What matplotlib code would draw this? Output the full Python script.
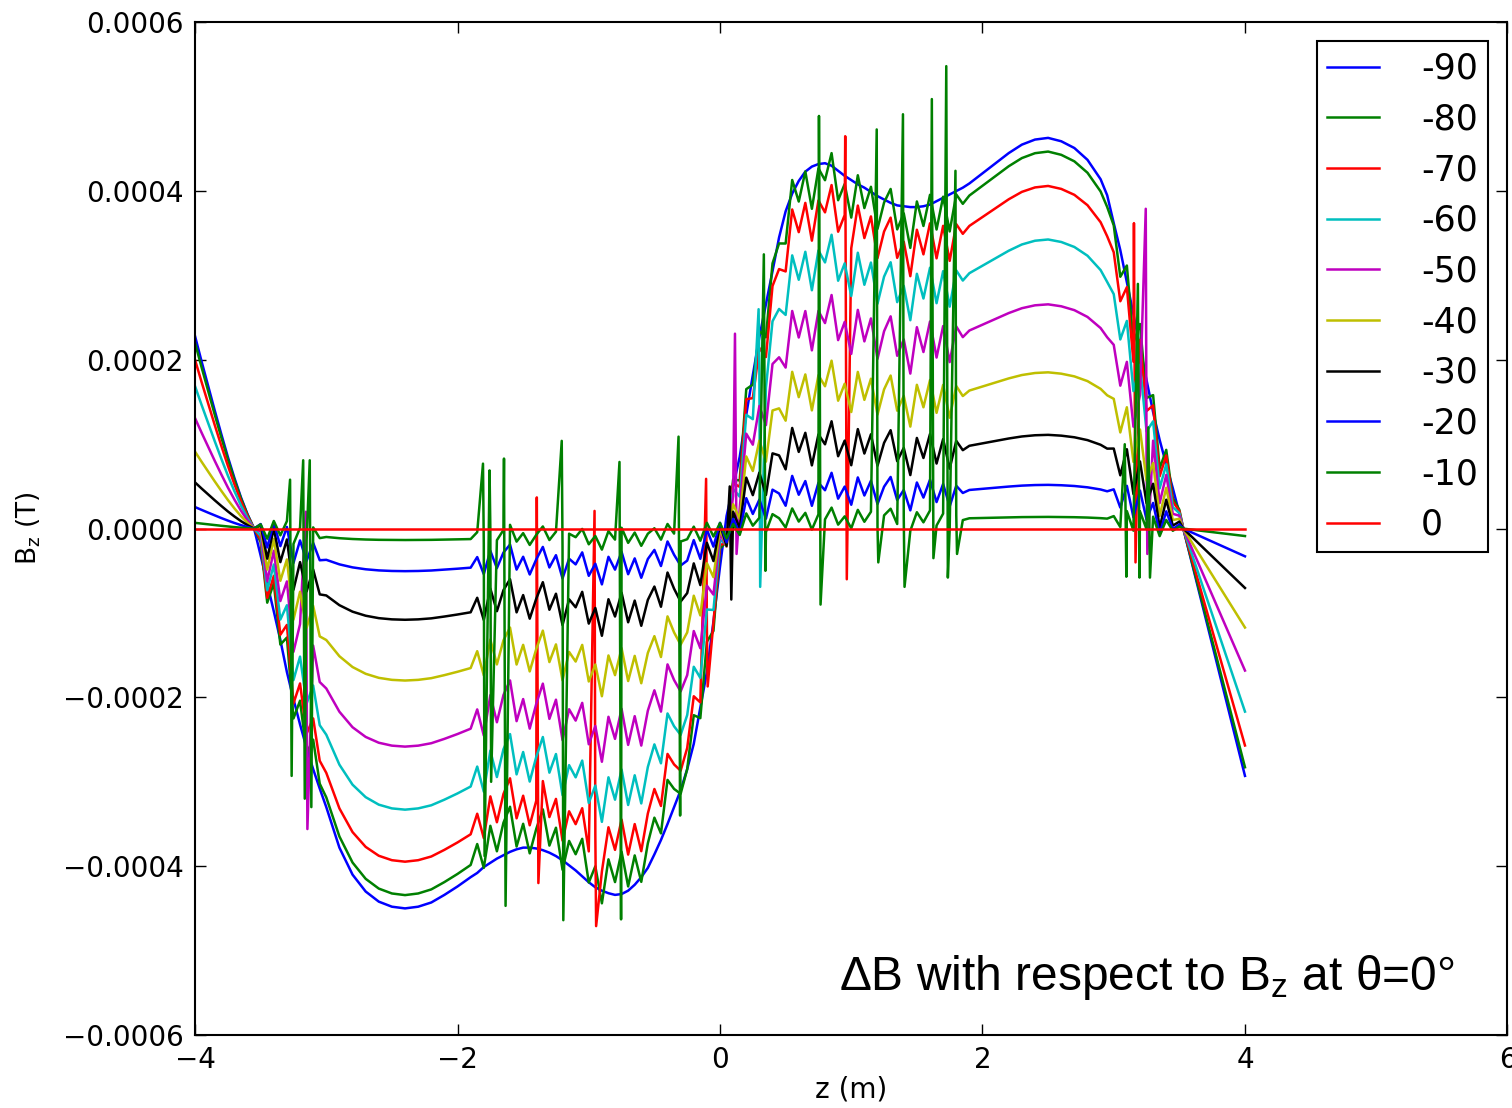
import numpy as np
import matplotlib.pyplot as plt
from matplotlib.ticker import FuncFormatter

plt.rcParams['mathtext.default'] = 'regular'

angles = [-90, -80, -70, -60, -50, -40, -30, -20, -10, 0]
colors = ['b', 'g', 'r', 'c', 'm', 'y', 'k', 'b', 'g', 'r']
# size of each curve relative to the -90 curve (read at the z=2.45 bump)
ratios = [1.0, 0.965, 0.877, 0.74, 0.574, 0.40, 0.24, 0.112, 0.03, 0.0]
# how strongly the mesh noise shows on each curve
noise_scale = [0.0, 1.0, 1.0, 1.0, 1.0, 0.9, 0.8, 0.6, 0.4, 0.0]

# -90 curve, units of 1e-4 T
z_knots = [-4.00, -3.95, -3.90, -3.85, -3.80, -3.75, -3.70, -3.65, -3.60, -3.55,
           -3.50, -3.45, -3.40, -3.35, -3.30, -3.25, -3.20, -3.15, -3.10, -3.05,
           -3.00, -2.90, -2.80, -2.70, -2.60, -2.50, -2.40, -2.30, -2.20, -2.10,
           -2.00, -1.90,
           -1.85, -1.80, -1.75, -1.70, -1.65, -1.60, -1.55, -1.50, -1.45, -1.40,
           -1.35, -1.30, -1.25, -1.20, -1.15, -1.10, -1.05, -1.00, -0.95, -0.90,
           -0.85, -0.80, -0.75, -0.70, -0.65, -0.60, -0.55, -0.50, -0.45, -0.40,
           -0.35, -0.30,
           -0.25, -0.20, -0.15, -0.10, -0.05, 0.00, 0.05, 0.10, 0.15, 0.20,
           0.25, 0.30, 0.35, 0.40, 0.45, 0.50, 0.55, 0.60, 0.65, 0.70,
           0.75, 0.80, 0.85, 0.90, 0.95, 1.00, 1.05, 1.10, 1.15, 1.20,
           1.25, 1.30, 1.35, 1.40, 1.45, 1.50, 1.55, 1.60, 1.65, 1.70,
           1.75, 1.80, 1.85,
           1.90, 2.00, 2.10, 2.20, 2.30, 2.40, 2.50, 2.60, 2.70, 2.80,
           2.90, 2.95,
           3.00, 3.05, 3.10, 3.15, 3.20, 3.25, 3.30, 3.35, 3.40, 3.45, 3.50,
           3.53, 4.00]
bz_90 = [2.28, 1.98, 1.69, 1.40, 1.12, 0.85, 0.60, 0.37, 0.17, 0.00,
         -0.32, -0.65, -0.98, -1.32, -1.70, -2.02, -2.32, -2.60, -2.85, -3.08,
         -3.30, -3.78, -4.10, -4.30, -4.42, -4.48, -4.50, -4.48, -4.43, -4.34,
         -4.24, -4.13,
         -4.08, -4.01, -3.96, -3.91, -3.87, -3.83, -3.80, -3.78, -3.78, -3.79,
         -3.81, -3.84, -3.88, -3.93, -3.99, -4.05, -4.12, -4.19, -4.25, -4.29,
         -4.32, -4.34, -4.33, -4.29, -4.22, -4.13, -4.02, -3.86, -3.69, -3.50,
         -3.30, -3.10,
         -2.85, -2.55, -2.12, -1.70, -1.10, -0.45, 0.15, 0.50, 0.85, 1.35,
         1.82, 2.27, 2.66, 3.05, 3.45, 3.76, 3.97, 4.12, 4.23, 4.29,
         4.32, 4.33, 4.30, 4.24, 4.18, 4.13, 4.08, 4.04, 3.99, 3.94,
         3.90, 3.86, 3.83, 3.82, 3.81, 3.81, 3.82, 3.84, 3.88, 3.92,
         3.96, 4.00, 4.04,
         4.09, 4.21, 4.33, 4.45, 4.55, 4.61, 4.63, 4.59, 4.51, 4.37,
         4.14, 3.95,
         3.62, 3.30, 2.92, 2.54, 2.15, 1.76, 1.38, 1.05, 0.76, 0.48, 0.18,
         0.00, -2.93]
# small wiggles on the noisy stretches (1e-4 T)
jitter = ([0.0] * 10
          + [0.15, -0.25, 0.30, -0.10, 0.35, -0.30, 0.20, -0.15, 0.25, -0.05]
          + [0.0] * 12
          + [0.20, -0.15, 0.30, -0.05, 0.25, 0.40, -0.10, 0.15, -0.20, 0.10,
             0.35, -0.05, 0.20, -0.25, 0.15, 0.05, 0.30, -0.15, 0.10, -0.30,
             0.25, 0.00, 0.35, -0.10, 0.20, -0.20, 0.15, 0.30, -0.05, 0.40,
             0.10, -0.15]
          + [-0.10, 0.25, -0.20, 0.30, -0.15, 0.20, -0.30, 0.10, -0.25, 0.35,
             -0.05, 0.15, -0.30, 0.20, 0.05, -0.25, 0.30, -0.10, 0.15, -0.35,
             0.10, -0.05, 0.30, -0.20, 0.05, -0.30, 0.25, -0.10, 0.20, -0.25,
             0.10, 0.30, -0.15, 0.05, -0.35, 0.20, -0.10, 0.25, -0.20, 0.15,
             -0.30, 0.10, -0.05]
          + [0.0] * 12
          + [0.10, -0.20, 0.30, -0.25, 0.35, -0.15, 0.25, -0.30, 0.20, -0.10, 0.05]
          + [0.0, 0.0])

# big spikes: position, top, bottom (1e-4 T) and the curve they sit on
spike_z = [-3.27, -3.17, -3.15, -3.12, -1.80, -1.75, -1.64, -1.39, -1.20, -0.95,
           -0.76, -0.31, -0.10, 0.08, 0.12, 0.30, 0.34, 0.76, 0.96, 1.20,
           1.40, 1.62, 1.73, 1.80, 3.09, 3.16, 3.19, 3.25, 3.27]
spike_top = [0.58, 0.81, 0.20, 0.81, 0.77, 0.69, 0.83, 0.37, 1.04, 0.21,
             0.79, 1.09, 0.59, 0.50, 2.31, 2.60, 3.25, 4.89, 4.65, 4.73,
             4.91, 5.09, 5.48, 4.24, 1.00, 3.62, 2.90, 3.79, 1.20]
spike_bot = [-2.93, -3.20, -3.56, -3.30, -3.88, -3.00, -4.47, -4.20, -4.64, -4.71,
             -4.63, -3.40, -1.87, -0.84, -0.30, -0.69, -0.50, -0.90, -0.60, -0.40,
             -0.69, -0.35, -0.58, -0.30, -0.57, -0.40, -0.58, -0.30, -0.58]
spike_angle = [-10, -10, -50, -10, -10, -10, -10, -70, -10, -70,
               -10, -10, -70, -30, -50, -60, -10, -10, -70, -10,
               -10, -10, -10, -10, -10, -70, -10, -50, -10]

assert len(z_knots) == len(bz_90) == len(jitter)

z = np.array(z_knots)
base = np.array(bz_90)
jit = np.array(jitter)

fig = plt.figure(figsize=(15.12, 11.08), dpi=100)
ax = fig.add_axes([0.129, 0.0659, 0.868, 0.914])

for ang, col, r, ns in zip(angles, colors, ratios, noise_scale):
    zz = list(z)
    yy = list(r * base + ns * jit)
    for sz, st, sb, sa in zip(spike_z, spike_top, spike_bot, spike_angle):
        if sa == ang:
            zz += [sz - 0.006, sz + 0.006]
            yy += [st, sb]
    order = np.argsort(zz, kind='stable')
    ax.plot(np.array(zz)[order], np.array(yy)[order] * 1e-4,
            color=col, lw=1.8, label=str(ang))

ax.set_xlim(-4, 6)
ax.set_ylim(-0.0006, 0.0006)
ax.set_xticks([-4, -2, 0, 2, 4, 6])
ax.set_yticks([-0.0006, -0.0004, -0.0002, 0, 0.0002, 0.0004, 0.0006])
ax.xaxis.set_major_formatter(FuncFormatter(lambda v, p: f'{v:g}'.replace('-', '\u2212')))
ax.yaxis.set_major_formatter(FuncFormatter(lambda v, p: f'{v:.4f}'.replace('-', '\u2212')
                                            if abs(v) > 1e-12 else '0.0000'))
ax.tick_params(direction='in', top=True, right=True, length=8, width=1,
               labelsize=20, pad=8)
for s in ax.spines.values():
    s.set_linewidth(1.5)

ax.set_xlabel('z (m)', fontsize=20)
ax.set_ylabel('B$_z$ (T)', fontsize=19)
ax.xaxis.set_label_coords(0.5, -0.040)
ax.yaxis.set_label_coords(-0.116, 0.5)

leg = ax.legend(loc='upper right', fontsize=25, handlelength=1.5,
                handletextpad=1.2, labelspacing=0.48, borderpad=0.3,
                borderaxespad=0.55, fancybox=False, framealpha=1)
leg.get_frame().set_edgecolor('k')
leg.get_frame().set_linewidth(1.5)

ax.text(0.960, 0.044, '\u0394B with respect to B$_z$ at \u03b8=0\u00b0',
        transform=ax.transAxes, ha='right', va='baseline',
        fontsize=34.5, family='Liberation Sans')

fig.savefig('out.png', dpi=100)
